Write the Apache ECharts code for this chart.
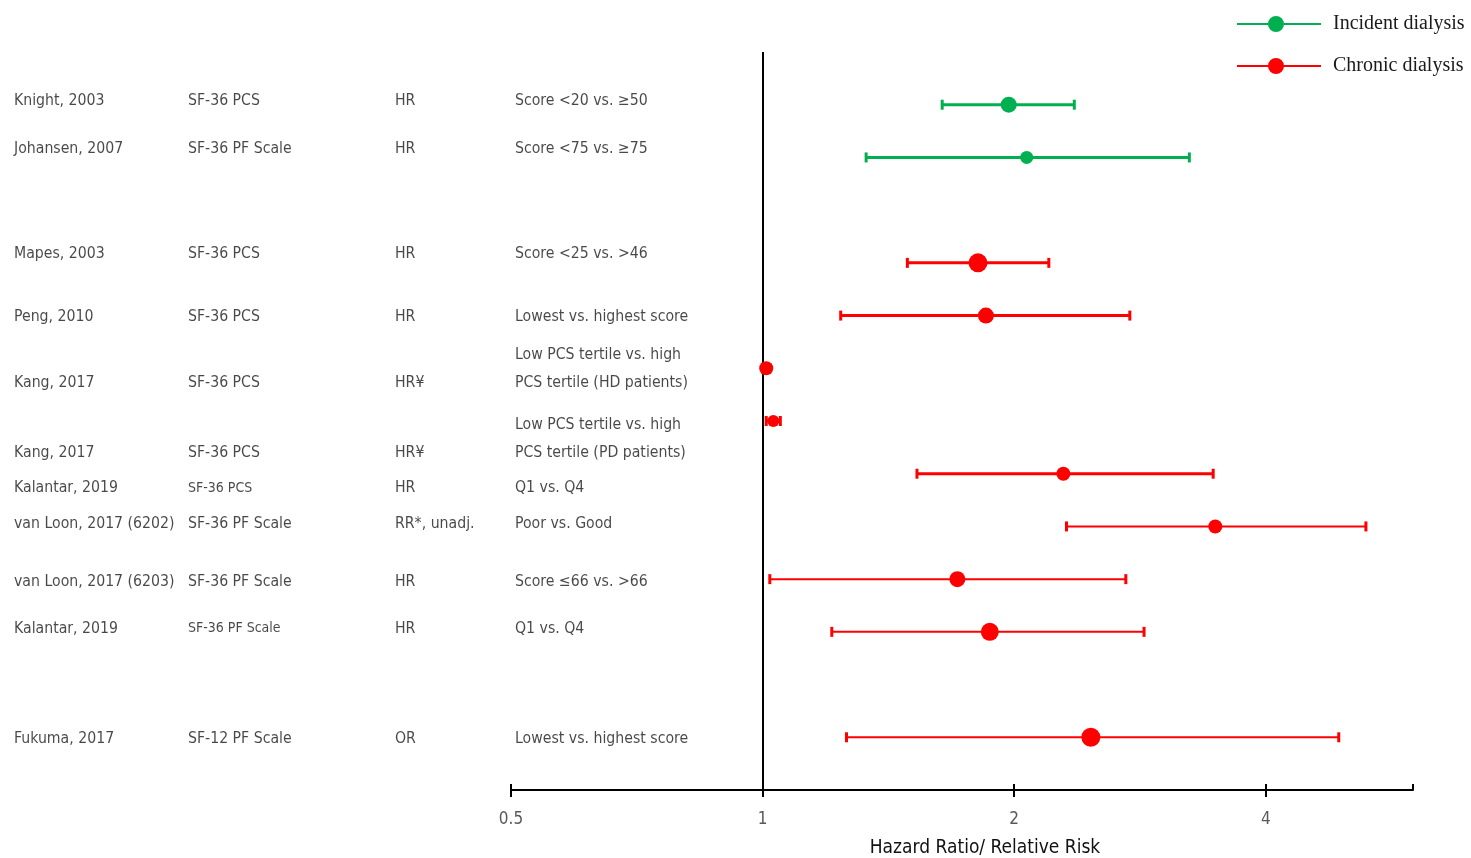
<!DOCTYPE html>
<html>
<head>
<meta charset="utf-8">
<script src="https://cdn.jsdelivr.net/npm/echarts@6/dist/echarts.min.js"></script>
<style>html,body{margin:0;padding:0;background:#fff}#c{width:1471px;height:858px}</style>
</head>
<body>
<div id="c"></div>
<script>
// ---- data ----
const studies = ['Knight, 2003','Johansen, 2007','Mapes, 2003','Peng, 2010','Kang, 2017','Kang, 2017','Kalantar, 2019','van Loon, 2017 (6202)','van Loon, 2017 (6203)','Kalantar, 2019','Fukuma, 2017'];
const instruments = ['SF-36 PCS','SF-36 PF Scale','SF-36 PCS','SF-36 PCS','SF-36 PCS','SF-36 PCS','SF-36 PCS','SF-36 PF Scale','SF-36 PF Scale','SF-36 PF Scale','SF-12 PF Scale'];
const measures = ['HR','HR','HR','HR','HR¥','HR¥','HR','RR*, unadj.','HR','HR','OR'];
const comparisons = ['Score <20 vs. ≥50','Score <75 vs. ≥75','Score <25 vs. >46','Lowest vs. highest score','Low PCS tertile vs. high\nPCS tertile (HD patients)','Low PCS tertile vs. high\nPCS tertile (PD patients)','Q1 vs. Q4','Poor vs. Good','Score ≤66 vs. >66','Q1 vs. Q4','Lowest vs. highest score'];
const groups = ['Incident dialysis','Incident dialysis','Chronic dialysis','Chronic dialysis','Chronic dialysis','Chronic dialysis','Chronic dialysis','Chronic dialysis','Chronic dialysis','Chronic dialysis','Chronic dialysis'];
const estimate = [1.97, 2.07, 1.81, 1.85, 1.01, 1.03, 2.29, 3.48, 1.71, 1.87, 2.47];
const lower    = [1.64, 1.33, 1.49, 1.24, 1.00, 1.01, 1.53, 2.31, 1.02, 1.21, 1.26];
const upper    = [2.36, 3.24, 2.20, 2.75, 1.02, 1.05, 3.46, 5.27, 2.72, 2.86, 4.89];
const plotRow  = [0, 1, 3, 4, 5, 6, 7, 8, 9, 10, 12];
const labelRow = [-0.08, 0.84, 2.83, 4.02, 5.27, 6.60, 7.27, 7.95, 9.05, 9.94, 12.03];
const comparisonRow = [-0.08, 0.84, 2.83, 4.02, 5.01, 6.34, 7.27, 7.95, 9.05, 9.94, 12.03];
const xTicks = [0.5, 1, 2, 4];
const groupNames = ['Incident dialysis', 'Chronic dialysis'];

// ---- styles ----
const colors = {'Incident dialysis': '#00B050', 'Chronic dialysis': '#FF0000'};
const markerSize = [16, 13, 19, 16, 14, 12, 14, 14, 16, 18, 19];
const ciWidth = [3, 3, 3, 3, 3, 3, 3, 2, 2, 2, 2];
const smallInstrument = [6, 9];
const colX = [14, 188, 395, 515];
const tableFont = '"DejaVu Sans Condensed", "Liberation Sans Narrow", sans-serif';
const tableSize = 15.7;

const idx = studies.map((_, i) => i);

function ciSeries(g) {
  const c = colors[g];
  return {
    type: 'custom', xAxisIndex: 0, yAxisIndex: 0, silent: true, clip: false,
    encode: {x: [0, 1], y: 2},
    data: idx.filter(i => groups[i] === g).map(i => [lower[i], upper[i], plotRow[i], ciWidth[i]]),
    renderItem: function (params, api) {
      const a = api.coord([api.value(0), api.value(2)]);
      const b = api.coord([api.value(1), api.value(2)]);
      const w = api.value(3);
      return {type: 'group', children: [
        {type: 'line', shape: {x1: a[0], y1: a[1], x2: b[0], y2: b[1]}, style: {stroke: c, lineWidth: w}},
        {type: 'rect', shape: {x: a[0] - 1.5, y: a[1] - 5, width: 3, height: 10}, style: {fill: c}},
        {type: 'rect', shape: {x: b[0] - 1.5, y: b[1] - 5, width: 3, height: 10}, style: {fill: c}}
      ]};
    }
  };
}

function pointSeries(g, withRef) {
  const s = {
    type: 'scatter', name: g, xAxisIndex: 0, yAxisIndex: 0, silent: true, clip: false,
    itemStyle: {color: colors[g], opacity: 1},
    data: idx.filter(i => groups[i] === g).map(i => ({value: [estimate[i], plotRow[i]], symbolSize: markerSize[i]})),
    z: 5
  };
  if (withRef) {
    s.markLine = {silent: true, symbol: ['none', 'none'], label: {show: false},
      lineStyle: {color: '#000', width: 2, type: 'solid'}, data: [{xAxis: 1}]};
  }
  return s;
}

function textSeries(col, texts, rows, fontFor) {
  return {
    type: 'scatter', xAxisIndex: 2, yAxisIndex: 1, silent: true, clip: false, symbolSize: 0,
    data: texts.map((t, i) => ({name: t, value: [colX[col], rows[i]],
      label: {fontSize: fontFor ? fontFor(i) : tableSize}})),
    label: {show: true, position: 'right', distance: 0, formatter: p => p.name,
      fontFamily: tableFont, color: '#1a1a1a', lineHeight: 28, align: 'left', verticalAlign: 'middle'}
  };
}

const legendIcon = 'path://M0,7H84V9H0Z M31,8A8,8 0 1,1 47,8A8,8 0 1,1 31,8Z';

const option = {
  animation: false,
  backgroundColor: '#fff',
  legend: {
    orient: 'vertical', left: 1232, top: 9, itemWidth: 84, itemHeight: 16, itemGap: 22,
    data: groupNames.map(n => ({name: n, icon: legendIcon})),
    textStyle: {fontFamily: '"Liberation Serif", "DejaVu Serif", serif', fontSize: 20, lineHeight: 16,
      color: '#1a1a1a', padding: [0, 0, 0, 7]},
    selectedMode: false
  },
  grid: [
    {left: 511, right: 58, top: 52, bottom: 68, containLabel: false, outerBoundsMode: 'none'},
    {left: 0, right: 0, top: 52, bottom: 68, containLabel: false, outerBoundsMode: 'none'}
  ],
  xAxis: [
    {
      type: 'log', logBase: 2, min: 0.5, max: 6, gridIndex: 0, position: 'bottom',
      axisLine: {show: true, onZero: false, lineStyle: {color: '#000', width: 2}},
      axisTick: {show: true, length: 7, lineStyle: {color: '#000', width: 2}},
      axisLabel: {show: true, margin: 21, fontSize: 17, color: '#595959', fontFamily: tableFont,
        showMaxLabel: false,
        formatter: v => (xTicks.some(t => Math.abs(t - v) < 1e-6) ? String(+v.toFixed(2)) : '')},
      splitLine: {show: false},
      name: 'Hazard Ratio/ Relative Risk', nameLocation: 'middle', nameGap: 49,
      nameTextStyle: {fontSize: 19, color: '#111', fontFamily: tableFont, padding: [0, 0, 0, 46]}
    },
    {
      type: 'log', logBase: 2, min: 0.5, max: 6, gridIndex: 0, position: 'bottom', offset: 0,
      axisLine: {show: false, onZero: false},
      axisTick: {show: true, inside: true, length: 6, lineStyle: {color: '#000', width: 2}},
      axisLabel: {show: false}, splitLine: {show: false}
    },
    {type: 'value', gridIndex: 1, min: 0, max: 1471, show: false}
  ],
  yAxis: [
    {type: 'value', gridIndex: 0, min: -1, max: 13, inverse: true, show: false},
    {type: 'value', gridIndex: 1, min: -1, max: 13, inverse: true, show: false}
  ],
  series: [
    ciSeries('Incident dialysis'),
    ciSeries('Chronic dialysis'),
    pointSeries('Incident dialysis', false),
    pointSeries('Chronic dialysis', true),
    textSeries(0, studies, labelRow),
    textSeries(1, instruments, labelRow, i => (smallInstrument.includes(i) ? 14 : tableSize)),
    textSeries(2, measures, labelRow),
    textSeries(3, comparisons, comparisonRow)
  ]
};

const chart = echarts.init(document.getElementById('c'), null, {renderer: 'canvas'});
chart.setOption(option);
</script>
</body>
</html>
